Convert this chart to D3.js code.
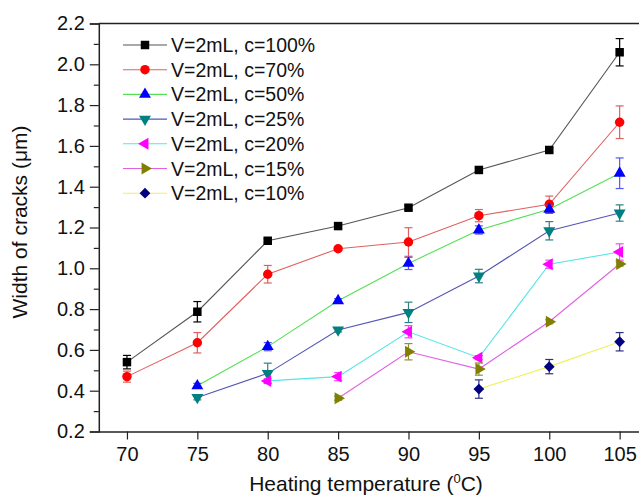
<!DOCTYPE html>
<html>
<head>
<meta charset="utf-8">
<script src="https://cdn.jsdelivr.net/npm/d3@7"></script>
<style>
  body { margin: 0; background: #fff; }
  svg { display: block; font-family: "Liberation Sans", Arial, sans-serif; }
</style>
</head>
<body>
<div id="chart"></div>
<script>
var temps = [70, 75, 80, 85, 90, 95, 100, 105];
var seriesLabels = ["V=2mL, c=100%", "V=2mL, c=70%", "V=2mL, c=50%", "V=2mL, c=25%",
                    "V=2mL, c=20%", "V=2mL, c=15%", "V=2mL, c=10%"];
var c100 = [0.540, 0.787, 1.135, 1.207, 1.297, 1.482, 1.580, 2.059];
var c100Err = [0.033, 0.050, 0.010, 0.010, 0.010, 0.010, 0.010, 0.067];
var c70 = [0.469, 0.635, 0.971, 1.096, 1.129, 1.258, 1.314, 1.716];
var c70Err = [0.027, 0.050, 0.043, 0.010, 0.070, 0.030, 0.040, 0.080];
var c50 = [null, 0.424, 0.616, 0.841, 1.024, 1.188, 1.289, 1.466];
var c50Err = [null, 0.012, 0.020, 0.010, 0.030, 0.020, 0.020, 0.075];
var c25 = [null, 0.367, 0.485, 0.698, 0.784, 0.962, 1.184, 1.271];
var c25Err = [null, 0.012, 0.050, 0.010, 0.050, 0.033, 0.045, 0.040];
var c20 = [null, null, 0.448, 0.469, 0.689, 0.562, 1.020, 1.080];
var c20Err = [null, null, 0.010, 0.020, 0.030, 0.010, 0.020, 0.040];
var c15 = [null, null, null, 0.363, 0.591, 0.506, 0.738, 1.021];
var c15Err = [null, null, null, 0.010, 0.040, 0.030, 0.010, 0.010];
var c10 = [null, null, null, null, null, 0.408, 0.518, 0.640];
var c10Err = [null, null, null, null, null, 0.045, 0.035, 0.045];
var xTicks = [70, 75, 80, 85, 90, 95, 100, 105];
var yTicks = [0.2, 0.4, 0.6, 0.8, 1.0, 1.2, 1.4, 1.6, 1.8, 2.0, 2.2];

var values = [c100, c70, c50, c25, c20, c15, c10];
var errors = [c100Err, c70Err, c50Err, c25Err, c20Err, c15Err, c10Err];

// styles: line colour, marker colour, error bar colour, marker shape
var lineColors = ["#555555", "#e06060", "#55e055", "#5555b5", "#55e5e5", "#e060e0", "#f0f060"];
var markColors = ["#000000", "#ff0000", "#0000ff", "#008080", "#ff00ff", "#808000", "#000080"];
var errColors = ["#000000", "#e06060", "#5555ff", "#308080", "#ff40ff", "#909040", "#303080"];
var shapes = [
  {type: d3.symbolSquare, size: 72, rot: 0},
  {type: d3.symbolCircle, size: 70, rot: 0},
  {type: d3.symbolTriangle, size: 62, rot: 0},
  {type: d3.symbolTriangle, size: 62, rot: 180},
  {type: d3.symbolTriangle, size: 62, rot: -90},
  {type: d3.symbolTriangle, size: 62, rot: 90},
  {type: d3.symbolSquare, size: 58, rot: 45}
];

var width = 639, height = 495;
var margin = {top: 23.5, left: 98.8, bottom: 63.5};
var plotW = 549, plotH = height - margin.top - margin.bottom;

var svg = d3.select("#chart").append("svg")
  .attr("width", width)
  .attr("height", height);

var x = d3.scaleLinear().domain([68, 107]).range([margin.left, margin.left + plotW]);
var y = d3.scaleLinear().domain([0.2, 2.2]).range([margin.top + plotH, margin.top]);

// frame: top line
svg.append("line")
  .attr("x1", margin.left).attr("x2", margin.left + plotW)
  .attr("y1", margin.top).attr("y2", margin.top)
  .attr("stroke", "#222").attr("stroke-width", 1.5);

// y axis with minor ticks
var yMinor = d3.range(0.3, 2.2, 0.2);
svg.append("g")
  .attr("transform", "translate(" + margin.left + ",0)")
  .call(d3.axisLeft(y).tickValues(yMinor).tickSize(5).tickFormat(""))
  .call(function(g) { g.select(".domain").remove(); });

var yAxis = svg.append("g")
  .attr("transform", "translate(" + margin.left + ",0)")
  .call(d3.axisLeft(y).tickValues(yTicks).tickSize(9).tickPadding(5).tickFormat(d3.format(".1f")));
yAxis.select(".domain").attr("stroke-width", 1.5).attr("stroke", "#222");

var xAxis = svg.append("g")
  .attr("transform", "translate(0," + (margin.top + plotH) + ")")
  .call(d3.axisBottom(x).tickValues(xTicks).tickSize(8).tickPadding(7).tickSizeOuter(0));
xAxis.select(".domain").attr("stroke-width", 1.5).attr("stroke", "#222");

svg.selectAll(".tick line").attr("stroke", "#222").attr("stroke-width", 1.2);
svg.selectAll(".tick text").attr("fill", "#111").style("font-size", "20px")
  .style("font-family", "'Liberation Sans', Arial, sans-serif");

// axis titles
svg.append("text")
  .attr("x", 366).attr("y", 491)
  .attr("text-anchor", "middle")
  .style("font-size", "21px").attr("fill", "#111")
  .html('Heating temperature (<tspan dy="-8" font-size="13px">0</tspan><tspan dy="8">C)</tspan>');

svg.append("text")
  .attr("transform", "translate(27,222) rotate(-90)")
  .attr("text-anchor", "middle")
  .style("font-size", "21px").attr("fill", "#111")
  .text("Width of cracks (\u03bcm)");

// series
var line = d3.line()
  .defined(function(d) { return d.v != null; })
  .x(function(d) { return x(d.t); })
  .y(function(d) { return y(d.v); });

values.forEach(function(vals, i) {
  var pts = temps.map(function(t, k) { return {t: t, v: vals[k], e: errors[i][k]}; });
  var g = svg.append("g");

  g.append("path")
    .datum(pts)
    .attr("d", line)
    .attr("fill", "none")
    .attr("stroke", lineColors[i])
    .attr("stroke-width", 1.1);

  var real = pts.filter(function(d) { return d.v != null; });

  // error bars
  var eb = g.selectAll(".eb").data(real).enter().append("g")
    .attr("stroke", errColors[i]).attr("stroke-width", 1.2);
  eb.append("line")
    .attr("x1", function(d) { return x(d.t); }).attr("x2", function(d) { return x(d.t); })
    .attr("y1", function(d) { return y(d.v - d.e); }).attr("y2", function(d) { return y(d.v + d.e); });
  eb.append("line")
    .attr("x1", function(d) { return x(d.t) - 4; }).attr("x2", function(d) { return x(d.t) + 4; })
    .attr("y1", function(d) { return y(d.v + d.e); }).attr("y2", function(d) { return y(d.v + d.e); });
  eb.append("line")
    .attr("x1", function(d) { return x(d.t) - 4; }).attr("x2", function(d) { return x(d.t) + 4; })
    .attr("y1", function(d) { return y(d.v - d.e); }).attr("y2", function(d) { return y(d.v - d.e); });

  // markers
  g.selectAll(".mk").data(real).enter().append("path")
    .attr("d", d3.symbol().type(shapes[i].type).size(shapes[i].size))
    .attr("transform", function(d) {
      return "translate(" + x(d.t) + "," + y(d.v) + ") rotate(" + shapes[i].rot + ")";
    })
    .attr("fill", markColors[i]);
});

// legend
var legend = svg.append("g");
seriesLabels.forEach(function(lab, i) {
  var ly = 45 + i * 24.7;
  legend.append("line")
    .attr("x1", 123).attr("x2", 167).attr("y1", ly).attr("y2", ly)
    .attr("stroke", lineColors[i]).attr("stroke-width", 1.1);
  legend.append("path")
    .attr("d", d3.symbol().type(shapes[i].type).size(shapes[i].size))
    .attr("transform", "translate(145," + ly + ") rotate(" + shapes[i].rot + ")")
    .attr("fill", markColors[i]);
  legend.append("text")
    .attr("x", 171).attr("y", ly + 7)
    .style("font-size", "19.5px").attr("fill", "#111")
    .text(lab);
});
</script>
</body>
</html>
